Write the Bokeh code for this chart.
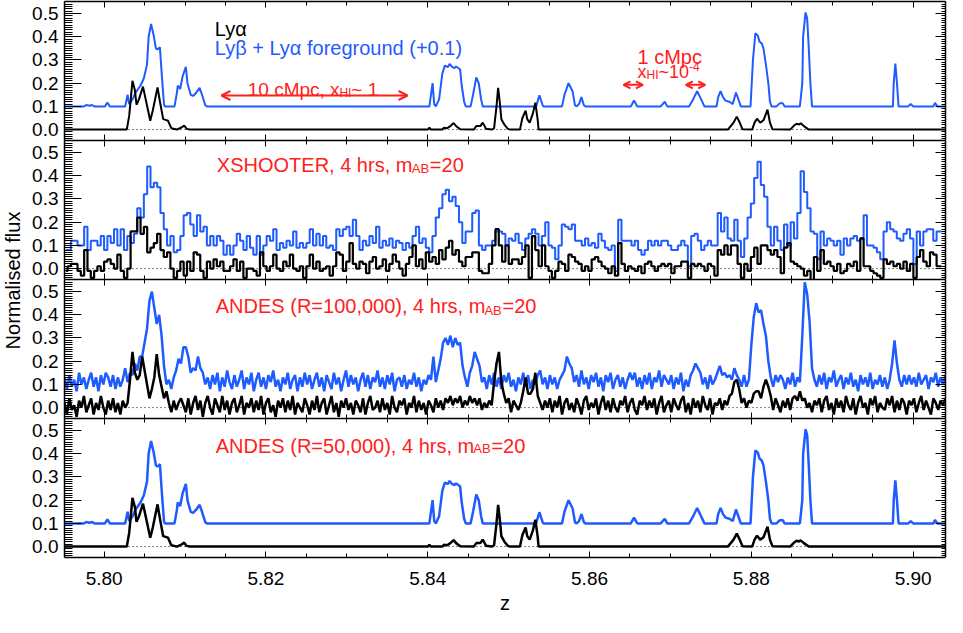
import math
from bokeh.plotting import figure
from bokeh.models import (Range1d, LinearAxis, SingleIntervalTicker, NumeralTickFormatter,
                          Label, Arrow, OpenHead, Span)
from bokeh.layouts import column, row
from bokeh.embed import file_html
from bokeh.resources import INLINE

BLUE = "#1f5cff"
RED = "#ff2020"
FONT = "Liberation Sans"

# ---------------- data ----------------
# noiseless model, Ly-alpha (black)
lya_z = [5.7951, 5.8028, 5.8031, 5.8035, 5.8038, 5.8040, 5.8043, 5.8048, 5.8052, 5.8057, 5.8060, 5.8066, 5.8069, 5.8073, 5.8076, 5.8079, 5.8083, 5.8090, 5.8096, 5.8099, 5.8102, 5.8106,
         5.8400, 5.8402, 5.8404, 5.8418, 5.8420, 5.8424, 5.8428, 5.8432, 5.8436, 5.8440, 5.8457, 5.8460, 5.8465, 5.8468, 5.8472, 5.8479,
         5.8482, 5.8485, 5.8487, 5.8489, 5.8491, 5.8495, 5.8499, 5.8502,
         5.8514, 5.8517, 5.8521, 5.8523, 5.8526, 5.8530, 5.8533, 5.8536, 5.8537,
         5.8771, 5.8778, 5.8782, 5.8785, 5.8789, 5.8801, 5.8804, 5.8807, 5.8811, 5.8815, 5.8820, 5.8823, 5.8826,
         5.8848, 5.8853, 5.8856, 5.8859, 5.8861, 5.8865, 5.8871, 5.9040]
lya_f = [0, 0, 0.06, 0.21, 0.17, 0.107, 0.13, 0.185, 0.12, 0.038, 0.08, 0.182, 0.12, 0.045, 0.042, 0.038, 0.006, 0, 0.01, 0.017, 0.003, 0,
         0, 0.008, 0, 0, 0.008, 0.006, 0.015, 0.028, 0.012, 0.002, 0, 0.015, 0.015, 0.03, 0.004, 0,
         0.005, 0.1, 0.18, 0.12, 0.045, 0.02, 0.003, 0,
         0, 0.05, 0.082, 0.045, 0.03, 0.07, 0.116, 0.04, 0,
         0, 0.03, 0.056, 0.035, 0.002, 0, 0.03, 0.047, 0.03, 0.04, 0.086, 0.03, 0.002,
         0, 0.018, 0.025, 0.022, 0.027, 0.015, 0, 0]

# noiseless model, Ly-beta + Ly-alpha foreground (+0.1) (blue)
lyb_z = [5.7951, 5.7975, 5.7978, 5.7982, 5.7985, 5.7988, 5.8001, 5.8004, 5.8007,
         5.8026, 5.8029, 5.8031, 5.8035, 5.8039, 5.8045, 5.8049, 5.8053, 5.8055, 5.8058, 5.8061, 5.8064, 5.8066, 5.8069, 5.8070, 5.8072, 5.8074, 5.8075,
         5.8087, 5.8090, 5.8091, 5.8094, 5.8097, 5.8101, 5.8103, 5.8107, 5.8110, 5.8114, 5.8118, 5.8121, 5.8125, 5.8127,
         5.8402, 5.8406, 5.8408, 5.8410, 5.8414, 5.8418, 5.8421, 5.8425, 5.8427, 5.8430, 5.8433, 5.8435, 5.8440, 5.8442, 5.8445, 5.8447,
         5.8453, 5.8456, 5.8460, 5.8463, 5.8466, 5.8468,
         5.8534, 5.8538, 5.8542, 5.8543,
         5.8566, 5.8569, 5.8574, 5.8579, 5.8582, 5.8584, 5.8587, 5.8590, 5.8593, 5.8595,
         5.8651, 5.8655, 5.8659,
         5.8688, 5.8693, 5.8696,
         5.8723, 5.8728, 5.8733, 5.8738, 5.8742,
         5.8757, 5.8759, 5.8762, 5.8765, 5.8768, 5.8773, 5.8777, 5.8781, 5.8785, 5.8787,
         5.8799, 5.8802, 5.8805, 5.8808, 5.8810, 5.8813, 5.8815, 5.8818, 5.8821, 5.8823, 5.8825,
         5.8831, 5.8835, 5.8839, 5.8841,
         5.8860, 5.8863, 5.8864, 5.8867, 5.8869, 5.8871, 5.8873, 5.8875,
         5.8975, 5.8976, 5.8978, 5.8980, 5.8982,
         5.8994, 5.8997, 5.9000,
         5.9025, 5.9027, 5.9030, 5.9040]
lyb_f = [0.1, 0.1, 0.106, 0.103, 0.106, 0.1, 0.1, 0.117, 0.1,
         0.1, 0.15, 0.11, 0.13, 0.16, 0.19, 0.22, 0.28, 0.4, 0.455, 0.41, 0.35, 0.345, 0.355, 0.3, 0.2, 0.11, 0.1,
         0.1, 0.16, 0.19, 0.175, 0.23, 0.27, 0.2, 0.15, 0.145, 0.16, 0.18, 0.15, 0.105, 0.1,
         0.1, 0.2, 0.11, 0.1, 0.13, 0.24, 0.275, 0.27, 0.283, 0.27, 0.265, 0.272, 0.26, 0.19, 0.12, 0.1,
         0.1, 0.15, 0.225, 0.2, 0.13, 0.1,
         0.1, 0.148, 0.105, 0.1,
         0.1, 0.15, 0.2, 0.165, 0.105, 0.1, 0.11, 0.14, 0.105, 0.1,
         0.1, 0.125, 0.1,
         0.1, 0.12, 0.1,
         0.1, 0.13, 0.166, 0.13, 0.1,
         0.1, 0.14, 0.166, 0.14, 0.125, 0.12, 0.11, 0.16, 0.12, 0.1,
         0.1, 0.3, 0.415, 0.405, 0.38, 0.37, 0.35, 0.28, 0.2, 0.12, 0.1,
         0.1, 0.113, 0.113, 0.1,
         0.1, 0.2, 0.4, 0.505, 0.48, 0.35, 0.2, 0.1,
         0.1, 0.2, 0.285, 0.2, 0.1,
         0.1, 0.11, 0.1,
         0.1, 0.115, 0.1, 0.1]

# XSHOOTER binned spectra (flux in units of 0.01), bins of dz = 0.00041 starting at z = 5.79507
XS_Z0, XS_DZ = 5.79507, 0.00041
xs_blue = [8, 8, 12, 12, 10, 10, 18, 8, 12, 12,
           10, 14, 8, 14, 11, 17, 10, 17, 8, 14,
           11, 15, 26, 22, 32, 44, 35, 37, 35, 24,
           17, 10, 14, 7, 8, 14, 23, 24, 19, 14,
           23, 16, 18, 10, 14, 10, 14, 12, 6, 10,
           6, 10, 15, 12, 8, 14, 9, 6, 14, 6,
           10, 14, 12, 17, 8, 11, 9, 12, 10, 16,
           9, 11, 9, 11, 17, 10, 15, 10, 14, 9,
           10, 8, 17, 14, 17, 18, 14, 21, 14, 8,
           12, 10, 14, 11, 18, 9, 12, 10, 13, 9,
           12, 11, 8, 11, 9, 14, 18, 11, 13, 9,
           7, 14, 22, 26, 32, 34, 29, 31, 27, 20,
           11, 16, 16, 24, 25, 10, 8, 10, 10, 12,
           16, 16, 15, 10, 13, 12, 15, 11, 8, 13,
           15, 17, 15, 10, 14, 20, 10, 9, 4, 10,
           19, 18, 17, 19, 12, 12, 10, 13, 10, 11,
           9, 15, 12, 9, 8, 10, -1, 21, 12, 12,
           12, 10, 12, 8, 6, 8, 12, 10, 12, 10,
           12, 12, 10, 8, 8, 10, 12, 10, 1, 14,
           15, 12, 8, 10, 12, 10, 10, 24, 16, 22,
           13, 12, 21, 12, 5, 13, 22, 28, 39, 46,
           36, 31, 18, 10, 18, 12, 8, 19, 10, 20,
           13, 24, 42, 33, 26, 16, 15, 4, 16, 10,
           13, 12, 10, 12, 6, 13, 10, 13, 14, 12,
           13, 23, 10, 10, 9, 7, 4, 16, 20, 17,
           16, 13, 12, 15, 17, 13, 2, 16, 10, 16,
           17, 17, 12, 16, 16]
xs_black = [-1, 1, 2, 2, -1, -3, 8, -1, -4, -1,
            1, -1, 3, 4, 2, 0, 6, -1, -4, 0,
            16, 16, 22, 15, 18, 7, 9, 11, 15, 8,
            5, 7, 0, -4, -1, 3, -3, 3, -1, 7,
            6, -1, -4, 3, 0, 4, 1, 3, -1, -1,
            1, 4, -1, 3, -4, 0, 0, -1, -3, 7,
            1, -1, 1, 6, 0, -1, 3, 1, 6, 0,
            -1, 1, -4, 1, 6, 0, 3, -1, 0, 1,
            -3, 1, 7, 6, -1, 3, 11, 2, 0, 3,
            2, -2, 3, 5, 0, 1, 4, -1, 2, 6,
            3, 0, -3, 2, 5, 10, 1, 4, 0, 7,
            3, 5, 2, 8, 4, 9, 12, 6, 8, 3,
            1, 5, 5, 7, 7, -1, -2, -2, 2, 10,
            17, 10, 3, 10, 2, 4, 4, 2, 5, 10,
            -4, 14, 8, 1, 10, 1, -1, -4, -1, 3,
            2, -1, 6, 5, 3, 2, -1, 1, -1, 4,
            5, 3, 1, 0, -2, 1, -3, 11, 2, -1,
            1, 0, -1, 1, -2, 2, 3, 1, -1, 1,
            2, 1, 2, -2, 1, 1, 3, 3, -4, 2,
            1, 2, 1, -1, 2, 1, -3, 8, 6, 10,
            6, 10, 10, 2, -4, 2, -1, 5, 9, 2,
            10, 10, 8, 6, 8, 5, -2, 9, 11, 3,
            2, 1, 0, -3, -1, -5, 5, -1, 8, 2,
            3, 1, -1, 2, -2, -1, 2, 1, 3, -1,
            13, 1, 1, -1, -2, -3, -4, 4, 2, 3,
            1, 2, 0, 3, -1, 2, -4, 5, 8, 3,
            1, 7, 6, 1, 1]

# ANDES R=100,000 spectra (flux in units of 0.01), sampled every dz = 0.0003 from z = 5.7951
AN_Z0, AN_DZ = 5.7951, 0.0003
an100_blue = [13, 8, 14, 9, 12, 7, 15, 10, 13, 8,
              12, 15, 9, 13, 7, 14, 10, 15, 13, 9,
              14, 8, 13, 9, 12, 17, 11, 15, 14, 19,
              16, 22, 22, 28, 34, 46, 50, 43, 36, 40,
              31, 18, 10, 12, 8, 13, 16, 21, 19, 26,
              26, 22, 15, 17, 16, 22, 17, 15, 10, 13,
              8, 14, 10, 15, 7, 13, 9, 16, 11, 8,
              14, 9, 12, 16, 8, 13, 10, 15, 7, 12,
              15, 9, 13, 8, 14, 11, 16, 9, 12, 7,
              13, 10, 15, 8, 12, 14, 7, 13, 9, 15,
              10, 14, 8, 12, 15, 9, 13, 7, 14, 11,
              8, 15, 10, 13, 7, 12, 16, 9, 14, 10,
              13, 7, 12, 15, 9, 14, 8, 13, 11, 16,
              9, 13, 8, 14, 10, 15, 7, 12, 13, 9,
              14, 8, 12, 10, 15, 9, 13, 7, 12, 10,
              14, 12, 22, 11, 16, 21, 28, 30, 27, 31,
              26, 30, 27, 28, 18, 13, 9, 15, 18, 24,
              21, 18, 11, 13, 8, 14, 10, 15, 9, 13,
              8, 14, 11, 15, 9, 12, 7, 13, 10, 15,
              9, 14, 8, 12, 10, 14, 16, 10, 13, 8,
              14, 10, 13, 8, 12, 14, 16, 22, 19, 17,
              11, 14, 9, 16, 10, 13, 8, 14, 11, 15,
              9, 13, 7, 14, 11, 15, 8, 12, 14, 9,
              13, 8, 12, 15, 12, 15, 9, 13, 8, 14,
              10, 15, 8, 13, 11, 16, 9, 14, 12, 10,
              14, 8, 13, 10, 15, 7, 12, 9, 14, 16,
              19, 17, 15, 10, 13, 8, 14, 10, 12, 15,
              18, 14, 15, 13, 14, 12, 17, 14, 12, 9,
              14, 9, 12, 27, 39, 45, 41, 42, 36, 31,
              20, 13, 9, 14, 11, 14, 12, 8, 13, 10,
              15, 9, 13, 11, 31, 54, 49, 37, 17, 12,
              9, 14, 10, 15, 8, 13, 11, 16, 9, 12,
              14, 8, 13, 10, 15, 9, 12, 7, 14, 10,
              13, 9, 15, 8, 12, 10, 14, 9, 13, 8,
              12, 19, 29, 19, 12, 9, 14, 10, 14, 10,
              13, 9, 15, 10, 12, 14, 8, 13, 11, 15,
              9, 13, 10, 14]
an100_black = [2, -3, 4, -1, 1, -4, 3, 0, 5, -2,
               1, 4, -3, 2, -1, 5, 0, -3, 3, -1,
               4, -2, 2, -3, 3, 0, 2, 12, 24, 15,
               12, 14, 22, 16, 10, 4, 8, 13, 23, 14,
               9, 4, 7, 2, -2, 3, -1, 2, 4, 1,
               -2, 4, -3, 2, 5, -1, 3, -4, 2, 5,
               0, -3, 4, 1, -2, 5, -1, 3, -3, 2,
               4, -2, 1, 5, -3, 2, 0, 4, -2, 3,
               -1, 5, -3, 2, 4, -2, 1, -4, 3, 0,
               4, -2, 3, -1, 5, -3, 2, 0, -2, 4,
               1, -3, 3, -1, 5, -2, 2, 4, -3, 1,
               5, -2, 2, -4, 3, 0, 4, -1, 2, -3,
               3, 1, -2, 4, -3, 2, 5, -1, 0, 3,
               -2, 4, -1, 2, -3, 5, 0, -2, 3, 1,
               4, -3, 2, 0, 5, -2, 3, -1, 2, -3,
               3, 1, -2, 4, 0, 3, -1, 4, 2, 5,
               1, 4, 2, 5, 0, 3, 1, 5, 2, 4,
               1, 4, -1, 2, 0, 3, 1, 11, 19, 24,
               11, 6, 2, 4, -2, 3, 1, -1, 2, 7,
               13, 6, 6, 8, 15, 5, 2, -1, 3, 0,
               4, -2, 3, 0, 5, -3, 2, 4, -1, 2,
               -2, 4, 1, -3, 3, 5, -1, 2, 0, 4,
               -3, 2, 5, -1, 3, -2, 4, 0, -2, 3,
               1, 5, -2, 2, 4, -1, -3, 3, 1, 5,
               -1, 3, 0, 4, -3, 2, 5, -2, 1, 3,
               -2, 4, 1, -1, 3, 5, -2, 2, -3, 4,
               0, 3, -2, 5, 1, -1, 4, -3, 2, 1,
               4, -1, 3, 1, 5, 6, 11, 12, 8, 2,
               4, 0, 3, 2, 6, 7, 7, 4, 9, 12,
               9, 5, -1, 4, 1, -2, 3, 0, 4, -1,
               4, 5, 3, 7, 3, 4, 0, 2, -2, 3,
               1, 4, -2, 3, 5, -1, 2, -3, 4, 0,
               3, -2, 5, 1, -1, 4, -3, 2, 5, 0,
               2, -3, 4, 1, 5, -2, 2, 0, -1, 4,
               1, 5, -2, 3, -1, 4, 2, -3, 3, 1,
               4, -2, 2, 5, -1, 3, 0, -3, 4, 2,
               -1, 3, 1, 4]

x_ticks_interval = 0.02
y_ticks_interval = 0.1

# ---------------- layout constants ----------------
Z_MIN, Z_MAX = 5.7951, 5.9040
Y_MIN, Y_MAX = -0.047, 0.552
FW, FH = 881, 139
LEFT, RIGHT = 40, 2
LABW = 24
BOTTOM = 66
TOTAL_H = 4 * FH + BOTTOM + 1

xr = Range1d(Z_MIN, Z_MAX)


def style_x(ax, show):
    ax.ticker = SingleIntervalTicker(interval=x_ticks_interval, num_minor_ticks=4)
    ax.formatter = NumeralTickFormatter(format="0.00")
    ax.axis_line_color = "black"
    ax.axis_line_width = 1.5
    ax.major_tick_line_color = "black"
    ax.minor_tick_line_color = "black"
    ax.major_tick_in = 6
    ax.major_tick_out = 0
    ax.minor_tick_in = 4
    ax.minor_tick_out = 0
    if show:
        ax.major_label_text_font = FONT
        ax.major_label_text_font_size = "19px"
        ax.major_label_text_color = "black"
        ax.major_label_standoff = 14
    else:
        ax.major_label_text_font_size = "1px"
        ax.major_label_text_color = None
        ax.major_label_standoff = 0


def style_y(ax, show, tin, mtin):
    ax.ticker = SingleIntervalTicker(interval=y_ticks_interval, num_minor_ticks=10)
    ax.formatter = NumeralTickFormatter(format="0.0")
    ax.axis_line_color = "black"
    ax.axis_line_width = 1.5
    ax.major_tick_line_color = "black"
    ax.minor_tick_line_color = "black"
    ax.major_tick_in = tin
    ax.major_tick_out = 0
    ax.minor_tick_in = mtin
    ax.minor_tick_out = 0
    if show:
        ax.major_label_text_font = FONT
        ax.major_label_text_font_size = "19px"
        ax.major_label_text_color = "black"
        ax.major_label_standoff = 6
    else:
        ax.major_label_text_font_size = "1px"
        ax.major_label_text_color = None
        ax.major_label_standoff = 0


def panel(bottom=False, top=0):
    p = figure(frame_width=FW, frame_height=FH, x_range=xr, y_range=Range1d(Y_MIN, Y_MAX),
               output_backend="svg", toolbar_location=None,
               min_border_left=LEFT, min_border_right=RIGHT, min_border_top=top,
               min_border_bottom=BOTTOM if bottom else 0)
    p.xgrid.visible = False
    p.ygrid.visible = False
    p.outline_line_color = None
    ax_b = p.xaxis[0]
    style_x(ax_b, bottom)
    style_y(p.yaxis[0], True, 17, 8)
    if bottom:
        ax_b.axis_label = "z"
        ax_b.axis_label_text_font = FONT
        ax_b.axis_label_text_font_size = "20px"
        ax_b.axis_label_text_font_style = "normal"
        ax_b.axis_label_text_color = "black"
        ax_b.axis_label_standoff = 4
    ax_top = LinearAxis()
    style_x(ax_top, False)
    p.add_layout(ax_top, "above")
    ax_r = LinearAxis()
    style_y(ax_r, False, 10, 4)
    p.add_layout(ax_r, "right")
    p.add_layout(Span(location=0, dimension="width", line_color="black",
                      line_dash="1 3", line_width=1, level="underlay"))
    return p


def txt(p, z, f, s, size, color):
    p.add_layout(Label(x=z, y=f, text=s, text_font=FONT, text_font_size=f"{size}px",
                       text_color=color, text_align="left", text_baseline="alphabetic"))


def dbl_arrow(p, z0, z1, f, size):
    p.add_layout(Arrow(x_start=z0, y_start=f, x_end=z1, y_end=f, line_color=RED, line_width=2,
                       start=OpenHead(size=size, line_color=RED, line_width=2),
                       end=OpenHead(size=size, line_color=RED, line_width=2)))


# ---------------- panel 1: noiseless ----------------
p1 = panel(top=1)
p1.line(lyb_z, lyb_f, line_color=BLUE, line_width=2)
p1.line(lya_z, lya_f, line_color="black", line_width=2)
txt(p1, 5.81368, 0.432, "Lyα", 20, "black")
txt(p1, 5.81368, 0.350, "Lyβ + Lyα foreground (+0.1)", 20, BLUE)
txt(p1, 5.81775, 0.173, "10 cMpc, x", 19, RED)
txt(p1, 5.82908, 0.158, "HI", 12, RED)
txt(p1, 5.83056, 0.173, "~ 1", 19, RED)
dbl_arrow(p1, 5.8145, 5.8375, 0.147, 9)
txt(p1, 5.86593, 0.313, "1 cMpc", 20, RED)
txt(p1, 5.86593, 0.248, "x", 18, RED)
txt(p1, 5.86704, 0.2346, "HI", 12, RED)
txt(p1, 5.86852, 0.248, "~10", 18, RED)
txt(p1, 5.87228, 0.272, "-4", 12, RED)
dbl_arrow(p1, 5.8642, 5.8666, 0.193, 7)
dbl_arrow(p1, 5.8719, 5.8743, 0.193, 7)

# ---------------- panel 2: XSHOOTER ----------------
p2 = panel()
xs_z = [XS_Z0 + XS_DZ * (k + 0.5) for k in range(len(xs_blue))]
p2.step(xs_z, [v / 100 for v in xs_blue], mode="center", line_color=BLUE, line_width=2)
p2.step(xs_z, [v / 100 for v in xs_black], mode="center", line_color="black", line_width=2.2)
txt(p2, 5.81393, 0.448, "XSHOOTER, 4 hrs, m", 20, RED)
txt(p2, 5.83803, 0.430, "AB", 13, RED)
txt(p2, 5.84026, 0.448, "=20", 20, RED)

# ---------------- panel 3: ANDES R=100,000 ----------------
p3 = panel()
an_z = [AN_Z0 + AN_DZ * k for k in range(len(an100_blue))]
p3.line(an_z, [v / 100 for v in an100_blue], line_color=BLUE, line_width=2.5)
p3.line(an_z, [v / 100 for v in an100_black], line_color="black", line_width=2.5)
txt(p3, 5.81380, 0.438, "ANDES (R=100,000), 4 hrs, m", 20, RED)
txt(p3, 5.84701, 0.420, "AB", 13, RED)
txt(p3, 5.84924, 0.438, "=20", 20, RED)

# ---------------- panel 4: ANDES R=50,000 ----------------
p4 = panel(bottom=True)
p4.line(lyb_z, lyb_f, line_color=BLUE, line_width=2.5)
p4.line(lya_z, lya_f, line_color="black", line_width=2.5)
txt(p4, 5.81380, 0.435, "ANDES (R=50,000), 4 hrs, m", 20, RED)
txt(p4, 5.84564, 0.421, "AB", 13, RED)
txt(p4, 5.84787, 0.435, "=20", 20, RED)

# ---------------- y-axis title ----------------
lab = figure(width=LABW, height=TOTAL_H, x_range=(0, 1), y_range=(0, TOTAL_H),
             output_backend="svg", toolbar_location=None, min_border=0)
lab.axis.visible = False
lab.grid.visible = False
lab.outline_line_color = None
lab.add_layout(Label(x=0.5, y=TOTAL_H - 280, text="Normalised flux", angle=math.pi / 2,
                     text_align="center", text_baseline="middle", text_font=FONT,
                     text_font_size="20px", text_color="black"))

layout = row(lab, column(p1, p2, p3, p4))
open("out.html", "w").write(file_html(layout, INLINE))
